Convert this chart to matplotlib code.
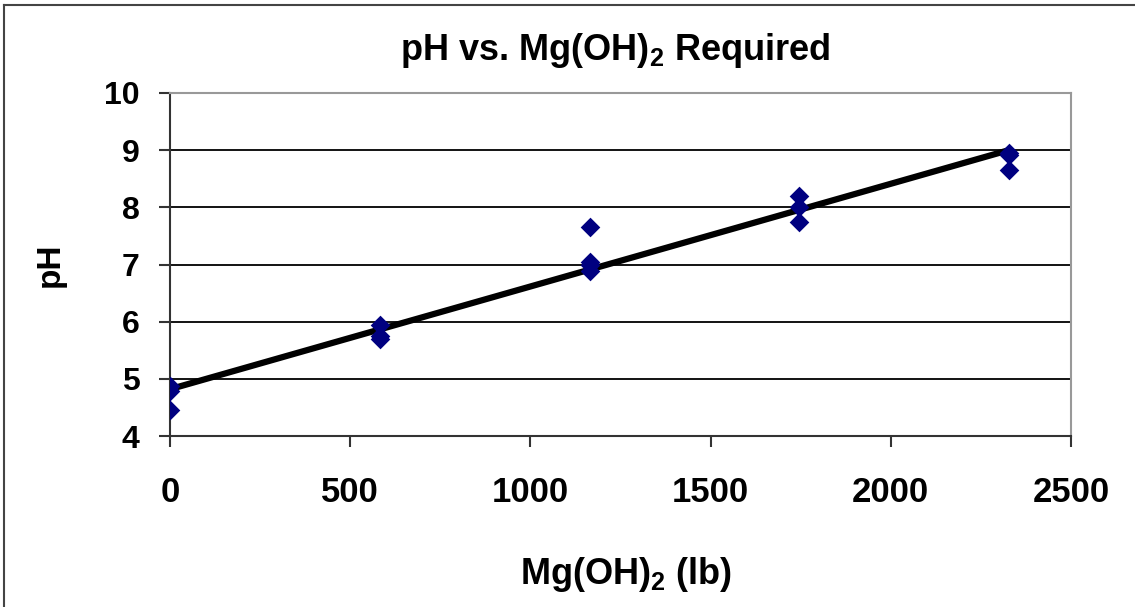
import numpy as np
import matplotlib
matplotlib.use("Agg")
import matplotlib.pyplot as plt
from matplotlib.lines import Line2D

# Data
mg_oh2_lb = [0, 0, 0,
             582, 582, 582,
             1164, 1164, 1164, 1164,
             1746, 1746, 1746,
             2328, 2328, 2328]
ph_values = [4.88, 4.78, 4.45,
             5.95, 5.75, 5.70,
             7.65, 7.05, 7.00, 6.88,
             8.20, 8.00, 7.75,
             8.95, 8.92, 8.65]
x_ticks = [0, 500, 1000, 1500, 2000, 2500]
y_ticks = [4, 5, 6, 7, 8, 9, 10]
title_text = "pH vs. Mg(OH)$_2$ Required"
x_label = "Mg(OH)$_2$ (lb)"
y_label = "pH"

plt.rcParams['font.family'] = ['Liberation Sans', 'DejaVu Sans']
plt.rcParams['mathtext.fontset'] = 'custom'
plt.rcParams['mathtext.rm'] = 'Liberation Sans:bold'
plt.rcParams['mathtext.default'] = 'rm'

W, H = 1135, 607
fig = plt.figure(figsize=(W / 100, H / 100), dpi=100)
fig.patch.set_facecolor('white')

left, right, top, bottom = 170, 1071, 93, 436
ax = fig.add_axes([left / W, 1 - bottom / H, (right - left) / W, (bottom - top) / H])

# Trend line (linear fit)
xs = np.array(mg_oh2_lb, dtype=float)
ys = np.array(ph_values, dtype=float)
slope, intercept = np.polyfit(xs, ys, 1)
xfit = np.array([xs.min(), xs.max()])
ax.plot(xfit, slope * xfit + intercept, color='black', lw=4.5, zorder=3,
        solid_capstyle='butt')

ax.scatter(xs, ys, marker='D', s=100, color='#000080', zorder=4, linewidths=0)

ax.set_xlim(0, 2500)
ax.set_ylim(4, 10)
ax.set_xticks(x_ticks)
ax.set_yticks(y_ticks)
ax.set_xticklabels([str(v) for v in x_ticks])
ax.set_yticklabels([str(v) for v in y_ticks])

for v in y_ticks[1:-1]:
    ax.axhline(v, color='black', lw=1.3, zorder=1)

ax.tick_params(axis='x', direction='out', length=8, width=1.5, color='#333333',
               pad=21, labelsize=25)
ax.tick_params(axis='y', direction='out', length=8, width=1.5, color='#333333',
               pad=14, labelsize=23)
for lbl in ax.get_xticklabels() + ax.get_yticklabels():
    lbl.set_fontweight('bold')

ax.spines['left'].set_color('#333333')
ax.spines['left'].set_linewidth(1.5)
ax.spines['bottom'].set_color('#333333')
ax.spines['bottom'].set_linewidth(1.5)
ax.spines['top'].set_color('#999999')
ax.spines['top'].set_linewidth(1.5)
ax.spines['right'].set_color('#999999')
ax.spines['right'].set_linewidth(1.5)

fig.text(615 / W, 1 - 50 / H, title_text, ha='center', va='center',
         fontsize=26, fontweight='bold')
fig.text(626 / W, 1 - 574 / H, x_label, ha='center', va='center',
         fontsize=26, fontweight='bold')
fig.text(50 / W, 1 - 265 / H, y_label, ha='center', va='center',
         fontsize=24, fontweight='bold', rotation=90)

# Outer chart border (top and left edges visible)
fig.add_artist(Line2D([4 / W, 4 / W], [0, 1 - 5 / H], color='#444444', lw=1.5,
                      transform=fig.transFigure))
fig.add_artist(Line2D([4 / W, 1], [1 - 5 / H, 1 - 5 / H], color='#444444', lw=1.5,
                      transform=fig.transFigure))

fig.savefig('out.png', dpi=100, facecolor='white')
